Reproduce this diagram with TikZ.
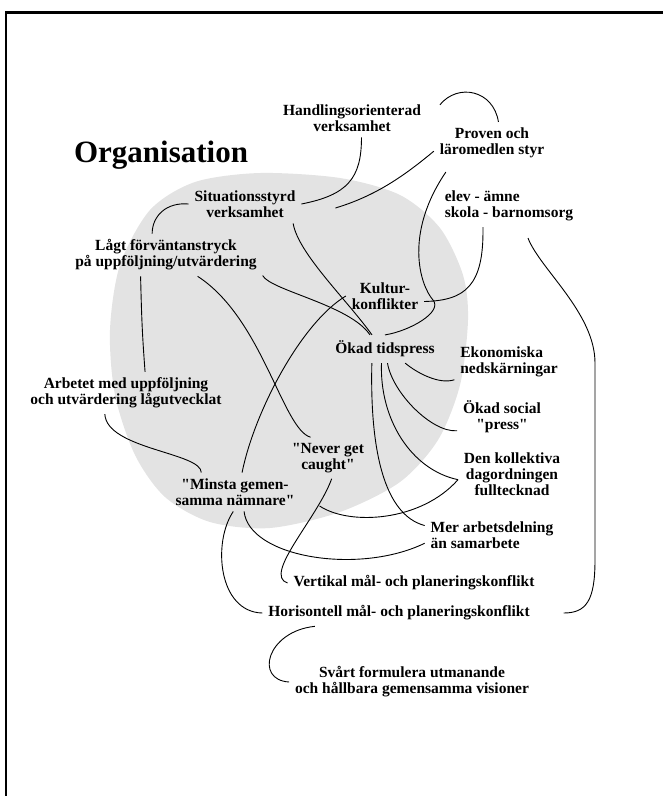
\documentclass[tikz,border=0pt]{standalone}
\usepackage{fontspec}
\setmainfont{Liberation Serif}[Ligatures=TeXOff]
\newcommand{\lblfont}{\fontsize{15.5}{16}\selectfont\bfseries}
\definecolor{blobgray}{gray}{0.89}

\begin{document}
\begin{tikzpicture}[x=1pt,y=-1pt,line width=0.9pt,
  lbl/.style={font=\lblfont,align=center,inner sep=2pt,outer sep=4pt}]
\useasboundingbox (0,0) rectangle (663,796);
\draw[line width=2.4pt] (6,796) -- (6,12.5) -- (663,12.5);
\fill[blobgray] plot[smooth cycle] coordinates {(150,210) (195,182) (260,173) (340,178) (400,195) (440,228) (463,275) (468,320) (460,385) (438,440) (400,482) (340,512) (270,528) (210,522) (165,497) (135,455) (115,395) (110,330) (120,265)};

\node[font=\fontsize{31}{34}\selectfont\bfseries](org) at (161,155){Organisation};
\node[lbl](hand) at (352,118){Handlingsorienterad\\verksamhet};
\node[lbl](prov) at (492,143){Proven och\\läromedlen styr};
\node[lbl](sit) at (245,204){Situationsstyrd\\verksamhet};
\node[lbl](lagt) at (166,255){Lågt förväntanstryck\\på uppföljning/utvärdering};
\node[lbl,align=left](elev) at (509,206){elev - ämne\\skola - barnomsorg};
\node[lbl](kult) at (385,296){Kultur-\\konflikter};
\node[lbl](okad) at (385,349){Ökad tidspress};
\node[lbl,align=left](eko) at (509,362){Ekonomiska\\nedskärningar};
\node[lbl](soc) at (502,417){Ökad social\\"press"};
\node[lbl](kol) at (512,474){Den kollektiva\\dagordningen\\fulltecknad};
\node[lbl,align=left](mer) at (492,535){Mer arbetsdelning\\än samarbete};
\node[lbl](vert) at (414,583){Vertikal mål- och planeringskonflikt};
\node[lbl](hori) at (399,613){Horisontell mål- och planeringskonflikt};
\node[lbl](svart) at (412,682){Svårt formulera utmanande\\och hållbara gemensamma visioner};
\node[lbl](arb) at (126,393){Arbetet med uppföljning\\och utvärdering lågutvecklat};
\node[lbl](never) at (328,458){"Never get\\caught"};
\node[lbl](minsta) at (235,492){"Minsta gemen-\\samma nämnare"};

\draw (hand.-64) .. controls +(0,41) and +(46,-9) .. (sit.east);
\draw (prov.188) .. controls +(-30,25) and +(40,-12) .. ([shift={(34,4)}]sit.east);
\draw ([xshift=13pt]hand.10) .. controls +(18,-22) and +(-5,-32) .. (prov.73);
\draw ([shift={(12,8)}]prov.south west) .. controls +(-42,62) and +(-13,-15) .. (433,300)
  .. controls +(10,12) and +(25,-4) .. (okad.north);
\draw (elev.219) .. controls +(1,59) and +(41,-1) .. (kult.-8);
\draw ([shift={(19,11)}]elev.south) .. controls +(12,31) and +(0,-50) .. (595,363) -- (595,560)
  .. controls +(0,40) and +(23,0) .. ([xshift=28pt]hori.east);
\draw (sit.-22) .. controls +(5,30) and +(-25,-35) .. ([xshift=-13pt]okad.north);
\draw (lagt.-12) .. controls +(8,15) and +(-20,-30) .. ([xshift=-15pt]okad.north);
\draw (kult.west) .. controls +(-45,27) and +(12,-60) .. (minsta.70);
\draw (lagt.-34) .. controls +(65,42) and +(-28,-8) .. (never.130);
\draw (lagt.220) .. controls +(1,40) and +(-3,-40) .. (arb.48);
\draw (sit.west) .. controls +(-22,-2) and +(0,-18) .. (lagt.123);
\draw (arb.225) .. controls +(2,35) and +(0,-20) .. (minsta.150);
\draw (never.-80) .. controls +(-14,39) and +(-25,-8) .. (vert.west);
\draw ([xshift=19pt]minsta.-12) .. controls +(30,20) and +(-37,42) .. (kol.186);
\draw (okad.-35) .. controls +(12,10) and +(-15,5) .. (eko.198);
\draw (okad.-80) .. controls +(5,30) and +(-25,2) .. (soc.197);
\draw (okad.-104) .. controls +(-2,56) and +(-47,-10) .. (kol.186);
\draw (okad.227) .. controls +(-2,86) and +(-41,-11) .. (mer.172);
\draw (minsta.-65) .. controls +(5,46) and +(-66,32) .. (mer.187);
\draw (minsta.-95) .. controls +(-21,31) and +(-44,-1) .. (hori.west);
\draw (hori.189) .. controls +(-48,5) and +(-35,-2) .. (svart.west);
\end{tikzpicture}
\end{document}
